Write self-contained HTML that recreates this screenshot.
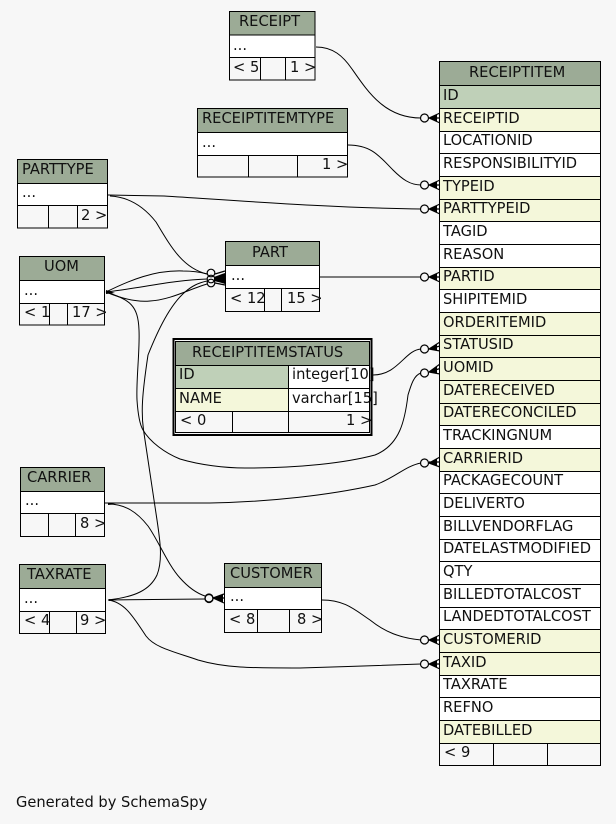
<!DOCTYPE html>
<html><head><meta charset="utf-8"><style>
html,body{margin:0;padding:0;background:#f7f7f7;width:616px;height:824px;overflow:hidden}
svg{display:block}
text{font-family:"DejaVu Sans",sans-serif;font-size:14.67px;fill:#111}
.b{fill:none;stroke:#000;stroke-width:1}
.e{fill:none;stroke:#000;stroke-width:1}
.h{fill:#9cab96}.k{fill:#bfd0b8}.f{fill:#f4f7da}.w{fill:#fff}
</style></head><body>
<svg width="616" height="824" viewBox="0 0 616 824" xmlns="http://www.w3.org/2000/svg">
<rect width="616" height="824" fill="#f7f7f7"/>

<!-- edges -->
<path class="e" d="M316 47 C333 47 343 56 352 69 C368 92 385 118 421 118"/>
<path class="e" d="M348 145 C372 145 380 157 393 170 C402 179 410 185 421 185"/>
<path class="e" d="M108 195 L164 196 C230 200 330 208 421 209"/>
<path class="e" d="M110 196 C130 197 145 208 156 222 C170 245 182 268 207 274"/>
<path class="e" d="M320 277 L421 277"/>
<path class="e" d="M373 375 C398 375 405 350 421 349"/>
<path class="e" d="M106 292 C130 300 138 305 139 330 C140 350 136 380 137 400 C138 415 140 425 143 430 C150 442 165 453 180 459 C200 465 225 468 245 468 C300 468 345 463 375 455 C400 445 405 420 408 395 C411 385 414 375 421 373"/>
<path class="e" d="M108 600 C135 597 150 590 157 575 C163 560 160 540 157 520 L143.500 430 C141 412 142 395 148 355 C158 330 170 305 185 292 C192 286 198 283 207 281"/>
<path class="e" d="M106 292 C130 280 155 270 183 271 C190 271 200 272 207 274"/>
<path class="e" d="M106 292 C140 288 175 280 207 279"/>
<path class="e" d="M106 292 C125 300 140 302 150 301 C170 300 190 289 207 284"/>
<path class="e" d="M105 503 L210 503 C270 502 330 495 375 485 C395 478 405 466 421 463"/>
<path class="e" d="M108 504 C125 504 137 512 148 526 C158 540 168 565 180 578 C188 587 196 593 205 596"/>
<path class="e" d="M108 600 L205 599"/>
<path class="e" d="M108 600 C125 602 134 618 146 636 C155 648 175 652 198 660 C225 668 250 668 300 668 C340 667 385 665 421 664"/>
<path class="e" d="M322 600 C345 600 355 610 370 620 C385 632 400 638 421 640"/>

<!-- thick ends at sources -->
<path d="M106 290 L115 293 L106 294Z M108 503 L116 504 L108 505Z M109 599 L116 600 L109 601Z"/>

<!-- crow's feet on RECEIPTITEM -->
<g fill="none" stroke="#000" stroke-width="1.200">
<circle cx="424.500" cy="118" r="4"/><circle cx="424.500" cy="185" r="4"/><circle cx="424.500" cy="209" r="4"/><circle cx="424.500" cy="277" r="4"/><circle cx="424.500" cy="349" r="4"/><circle cx="424.500" cy="373" r="4"/><circle cx="424.500" cy="463" r="4"/><circle cx="424.500" cy="640" r="4"/><circle cx="424.500" cy="664" r="4"/>
<path d="M429 118 L440 113 M429 118 L440 118 M429 118 L440 123"/>
<path d="M429 185 L440 180 M429 185 L440 185 M429 185 L440 190"/>
<path d="M429 209 L440 204 M429 209 L440 209 M429 209 L440 214"/>
<path d="M429 277 L440 272 M429 277 L440 277 M429 277 L440 282"/>
<path d="M429 349 L440 342 M429 349 L440 346 M429 349 L440 351"/>
<path d="M429 372 L440 364 M429 372 L440 368.500 M429 372 L440 374"/>
<path d="M429 463 L440 457 M429 462 L440 462 M429 463 L440 467"/>
<path d="M429 640 L440 635 M429 640 L440 640 M429 640 L440 645"/>
<path d="M429 664 L440 659 M429 664 L440 664 M429 664 L440 669"/>
</g>
<path d="M429 118L437 114.500L437 121.500Z M429 185L437 181.500L437 188.500Z M429 209L437 205.500L437 212.500Z M429 277L437 273.500L437 280.500Z M429 349L437 343.500L437 350.500Z M429 372L437 366L437 373.500Z M429 463L437 459L437 466Z M429 640L437 636.500L437 643.500Z M429 664L437 660.500L437 667.500Z"/>

<!-- crow's feet PART -->
<g fill="none" stroke="#000" stroke-width="1.200">
<circle cx="211" cy="273" r="3.800"/><circle cx="211" cy="279" r="3.800"/><circle cx="211" cy="283" r="3.800"/>
<path d="M215 274 L225 271 M215 279 L225 276 M215 283 L225 285 M215 279 L225 281"/>
</g>
<path d="M214 277 L222 274 L225 273 L225 284 L222 283 L214 281Z"/>
<!-- crow's feet CUSTOMER -->
<g fill="none" stroke="#000" stroke-width="1.200">
<circle cx="209" cy="598" r="4"/><circle cx="209" cy="598.500" r="4"/>
<path d="M213 598 L224 594 M213 598 L224 598 M213 598 L224 603"/>
</g>
<path d="M213 598L223 594L223 602.500Z"/>

<!-- RECEIPT -->
<rect x="229.500" y="11.500" width="85.500" height="23.500" class="h"/><rect x="229.500" y="35" width="85.500" height="22.500" class="w"/>
<rect class="b" x="229.500" y="11.500" width="85.500" height="68.500"/><path class="b" d="M229.500 35H315M229.500 57.500H315M260.500 57.500V80M285.500 57.500V80"/>
<text x="239" y="26">RECEIPT</text><text x="233" y="50">...</text><text x="233" y="72">&lt; 5</text><text x="290" y="72">1 &gt;</text>

<!-- RECEIPTITEMTYPE -->
<rect x="197.500" y="108.500" width="150" height="24" class="h"/><rect x="197.500" y="132.500" width="150" height="22.500" class="w"/>
<rect class="b" x="197.500" y="108.500" width="150" height="68.500"/><path class="b" d="M197.500 132.500H347.500M197.500 155.500H347.500M248.500 155.500V177M297.500 155.500V177"/>
<text x="202" y="123">RECEIPTITEMTYPE</text><text x="202" y="147">...</text><text x="322" y="169">1 &gt;</text>

<!-- PARTTYPE -->
<rect x="17.500" y="159.500" width="90" height="24" class="h"/><rect x="17.500" y="183.500" width="90" height="22" class="w"/>
<rect class="b" x="17.500" y="159.500" width="90" height="68.500"/><path class="b" d="M17.500 183.500H107.500M17.500 205.500H107.500M48.500 205.500V228M77.500 205.500V228"/>
<text x="22" y="174">PARTTYPE</text><text x="22" y="197">...</text><text x="81" y="220">2 &gt;</text>

<!-- UOM -->
<rect x="19.500" y="256.500" width="85" height="24" class="h"/><rect x="19.500" y="280.500" width="85" height="22.500" class="w"/>
<rect class="b" x="19.500" y="256.500" width="85" height="68.500"/><path class="b" d="M19.500 280.500H104.500M19.500 303.500H104.500M49.500 303.500V325M67.500 303.500V325"/>
<text x="44" y="271">UOM</text><text x="24" y="295">...</text><text x="24" y="317">&lt; 1</text><text x="72" y="317">17 &gt;</text>

<!-- PART -->
<rect x="225.500" y="241.500" width="94" height="24" class="h"/><rect x="225.500" y="265.500" width="94" height="23" class="w"/>
<rect class="b" x="225.500" y="241.500" width="94" height="70"/><path class="b" d="M225.500 265.500H319.500M225.500 288.500H319.500M264.500 288.500V311.500M281.500 288.500V311.500"/>
<text x="252" y="257">PART</text><text x="231" y="280">...</text><text x="230" y="303">&lt; 12</text><text x="287" y="303">15 &gt;</text>

<!-- RECEIPTITEMSTATUS -->
<rect x="175.500" y="341.500" width="194" height="24" class="h"/><rect x="175.500" y="365.500" width="113" height="23" class="k"/><rect x="288.500" y="365.500" width="81" height="23" class="w"/><rect x="175.500" y="388.500" width="113" height="23" class="f"/><rect x="288.500" y="388.500" width="81" height="23" class="w"/>
<text x="192" y="357">RECEIPTITEMSTATUS</text><text x="179" y="379">ID</text><text x="292" y="379">integer[10]</text><text x="179" y="403">NAME</text><text x="292" y="403">varchar[15]</text><text x="180" y="425">&lt; 0</text><text x="346" y="425">1 &gt;</text>
<rect x="173.500" y="339" width="198" height="96" fill="none" stroke="#000" stroke-width="2"/>
<rect class="b" x="175.500" y="341.500" width="194" height="91"/>
<path class="b" d="M175.500 365.500H369.500M175.500 388.500H369.500M175.500 411.500H369.500M288.500 365.500V432.500M232.500 411.500V432.500"/>

<!-- CARRIER -->
<rect x="20.500" y="467.500" width="84" height="24" class="h"/><rect x="20.500" y="491.500" width="84" height="22" class="w"/>
<rect class="b" x="20.500" y="467.500" width="84" height="69"/><path class="b" d="M20.500 491.500H104.500M20.500 513.500H104.500M48.500 513.500V536.500M75.500 513.500V536.500"/>
<text x="27" y="482">CARRIER</text><text x="25" y="505">...</text><text x="80" y="528">8 &gt;</text>

<!-- TAXRATE -->
<rect x="19.500" y="564.500" width="86" height="24" class="h"/><rect x="19.500" y="588.500" width="86" height="23" class="w"/>
<rect class="b" x="19.500" y="564.500" width="86" height="69"/><path class="b" d="M19.500 588.500H105.500M19.500 611.500H105.500M49.500 611.500V633.500M76.500 611.500V633.500"/>
<text x="27" y="579">TAXRATE</text><text x="24" y="603">...</text><text x="24" y="625">&lt; 4</text><text x="80" y="625">9 &gt;</text>

<!-- CUSTOMER -->
<rect x="224.500" y="563.500" width="97" height="24" class="h"/><rect x="224.500" y="587.500" width="97" height="22" class="w"/>
<rect class="b" x="224.500" y="563.500" width="97" height="69"/><path class="b" d="M224.500 587.500H321.500M224.500 609.500H321.500M257.500 609.500V632.500M289.500 609.500V632.500"/>
<text x="230" y="578">CUSTOMER</text><text x="230" y="601">...</text><text x="229" y="624">&lt; 8</text><text x="297" y="624">8 &gt;</text>

<!-- RECEIPTITEM -->
<rect x="439.500" y="61.500" width="161" height="24" class="h"/>
<rect x="439.500" y="85.500" width="161" height="23" class="k"/>
<rect x="439.500" y="108.500" width="161" height="635" class="w"/>
<rect x="439.500" y="108.500" width="161" height="23" class="f"/>
<rect x="439.500" y="176.500" width="161" height="45" class="f"/>
<rect x="439.500" y="267.500" width="161" height="22" class="f"/>
<rect x="439.500" y="312.500" width="161" height="113" class="f"/>
<rect x="439.500" y="448.500" width="161" height="23" class="f"/>
<rect x="439.500" y="629.500" width="161" height="46" class="f"/>
<rect x="439.500" y="720.500" width="161" height="23" class="f"/>
<rect class="b" x="439.500" y="61.500" width="161" height="704"/>
<path class="b" d="M439.500 85.500H600.500M439.500 108.500H600.500M439.500 131.500H600.500M439.500 153.500H600.500M439.500 176.500H600.500M439.500 199.500H600.500M439.500 221.500H600.500M439.500 244.500H600.500M439.500 267.500H600.500M439.500 289.500H600.500M439.500 312.500H600.500M439.500 335.500H600.500M439.500 357.500H600.500M439.500 380.500H600.500M439.500 403.500H600.500M439.500 425.500H600.500M439.500 448.500H600.500M439.500 471.500H600.500M439.500 493.500H600.500M439.500 516.500H600.500M439.500 539.500H600.500M439.500 561.500H600.500M439.500 584.500H600.500M439.500 607.500H600.500M439.500 629.500H600.500M439.500 652.500H600.500M439.500 675.500H600.500M439.500 697.500H600.500M439.500 720.500H600.500M439.500 743.500H600.500M493.500 743.500V765.500M547.500 743.500V765.500"/>
<text x="469" y="77">RECEIPTITEM</text>
<text x="443" y="100">ID</text>
<text x="443" y="123">RECEIPTID</text>
<text x="443" y="145">LOCATIONID</text>
<text x="443" y="168">RESPONSIBILITYID</text>
<text x="443" y="191">TYPEID</text>
<text x="443" y="213">PARTTYPEID</text>
<text x="443" y="236">TAGID</text>
<text x="443" y="259">REASON</text>
<text x="443" y="281">PARTID</text>
<text x="443" y="304">SHIPITEMID</text>
<text x="443" y="327">ORDERITEMID</text>
<text x="443" y="349">STATUSID</text>
<text x="443" y="372">UOMID</text>
<text x="443" y="395">DATERECEIVED</text>
<text x="443" y="417">DATERECONCILED</text>
<text x="443" y="440">TRACKINGNUM</text>
<text x="443" y="463">CARRIERID</text>
<text x="443" y="485">PACKAGECOUNT</text>
<text x="443" y="508">DELIVERTO</text>
<text x="443" y="531">BILLVENDORFLAG</text>
<text x="443" y="553">DATELASTMODIFIED</text>
<text x="443" y="576">QTY</text>
<text x="443" y="599">BILLEDTOTALCOST</text>
<text x="443" y="621">LANDEDTOTALCOST</text>
<text x="443" y="644">CUSTOMERID</text>
<text x="443" y="667">TAXID</text>
<text x="443" y="689">TAXRATE</text>
<text x="443" y="712">REFNO</text>
<text x="443" y="735">DATEBILLED</text>
<text x="444" y="757">&lt; 9</text>

<text x="16" y="807">Generated by SchemaSpy</text>
</svg>
</body></html>
